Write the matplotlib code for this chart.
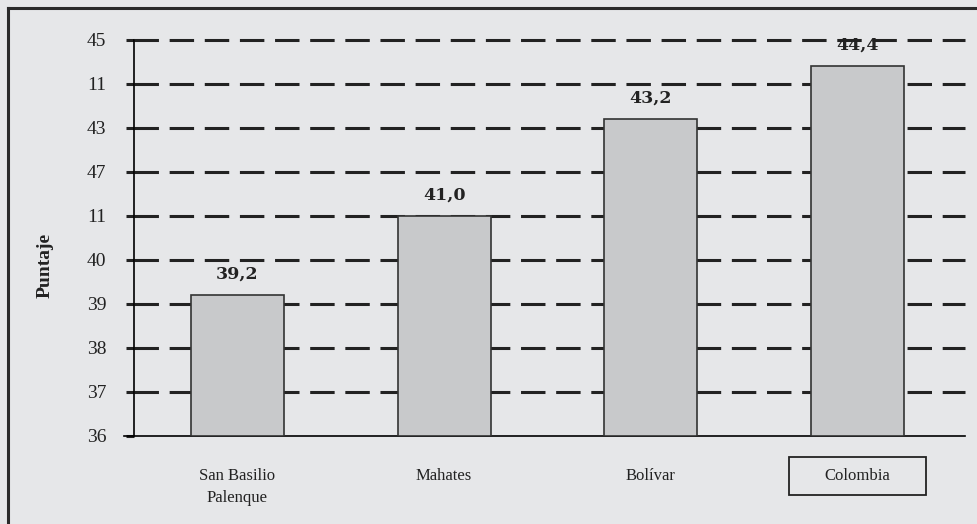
import matplotlib.pyplot as plt
from matplotlib.lines import Line2D
from matplotlib.patches import Rectangle
from matplotlib.transforms import blended_transform_factory

categories = ['San Basilio\nPalenque', 'Mahates', 'Bolívar', 'Colombia']
values = [39.2, 41.0, 43.2, 44.4]
value_labels = ['39,2', '41,0', '43,2', '44,4']
ytick_values = [36, 37, 38, 39, 40, 41, 42, 43, 44, 45]
ytick_labels = ['36', '37', '38', '39', '40', '11', '47', '43', '11', '45']

bg = '#e6e7e9'
ink = '#222222'
plt.rcParams['font.family'] = ['Liberation Serif', 'DejaVu Serif']

fig = plt.figure(figsize=(9.77, 5.24), dpi=100, facecolor=bg)
ax = fig.add_axes([134/977, 1-436/524, 831/977, 396/524], facecolor=bg)

x = range(len(categories))
ax.bar(x, [v - 36 for v in values], bottom=36, width=0.45,
       color='#c8c9cb', edgecolor='#333333', linewidth=1.2, zorder=3)

for i, (v, lab) in enumerate(zip(values, value_labels)):
    ax.annotate(lab, (i, v), xytext=(0, 9), textcoords='offset points',
                ha='center', va='bottom', fontsize=12.5, fontweight='bold',
                family='DejaVu Serif', color=ink)

ax.set_xlim(-0.5, 3.52)
ax.set_ylim(36, 45)
ax.set_yticks(ytick_values)
ax.set_yticklabels(ytick_labels, fontsize=14, color=ink)
ax.set_xticks(list(x))
ax.set_xticklabels(categories, fontsize=12, color=ink, linespacing=1.5)
ax.tick_params(axis='x', length=0, pad=23)
ax.tick_params(axis='y', direction='out', length=6, width=2.2, color=ink, pad=14)

# box round the Colombia label
trans = blended_transform_factory(ax.transData, ax.transAxes)
ax.add_patch(Rectangle((3 - 0.33, -0.149), 0.66, 0.096, transform=trans,
                       facecolor='none', edgecolor=ink, linewidth=1.3, clip_on=False))

ax.yaxis.grid(True, color=ink, linewidth=2.2, linestyle=(0, (8, 3.5)), zorder=1)
gridlines = ax.yaxis.get_gridlines()
for gl in gridlines:
    gl.set_clip_on(False)
gridlines[0].set_visible(False)
ax.set_axisbelow(True)
for s in ['top', 'right']:
    ax.spines[s].set_visible(False)
ax.spines['left'].set_linewidth(1.2)
ax.spines['bottom'].set_linewidth(1.2)
ax.spines['bottom'].set_bounds(-0.55, 3.52)

ax.text(-0.107, 0.43, 'Puntaje', transform=ax.transAxes, rotation=90,
        ha='center', va='center', fontsize=14, fontweight='bold', color=ink)

# outer frame (top and left edges)
fig.add_artist(Line2D([8/977, 8/977], [0, 1-8/524], transform=fig.transFigure,
                      color='#2a2a2a', linewidth=2.2))
fig.add_artist(Line2D([8/977, 1], [1-8/524, 1-8/524], transform=fig.transFigure,
                      color='#2a2a2a', linewidth=2.2))

fig.savefig('out.png', dpi=100, facecolor=bg)
